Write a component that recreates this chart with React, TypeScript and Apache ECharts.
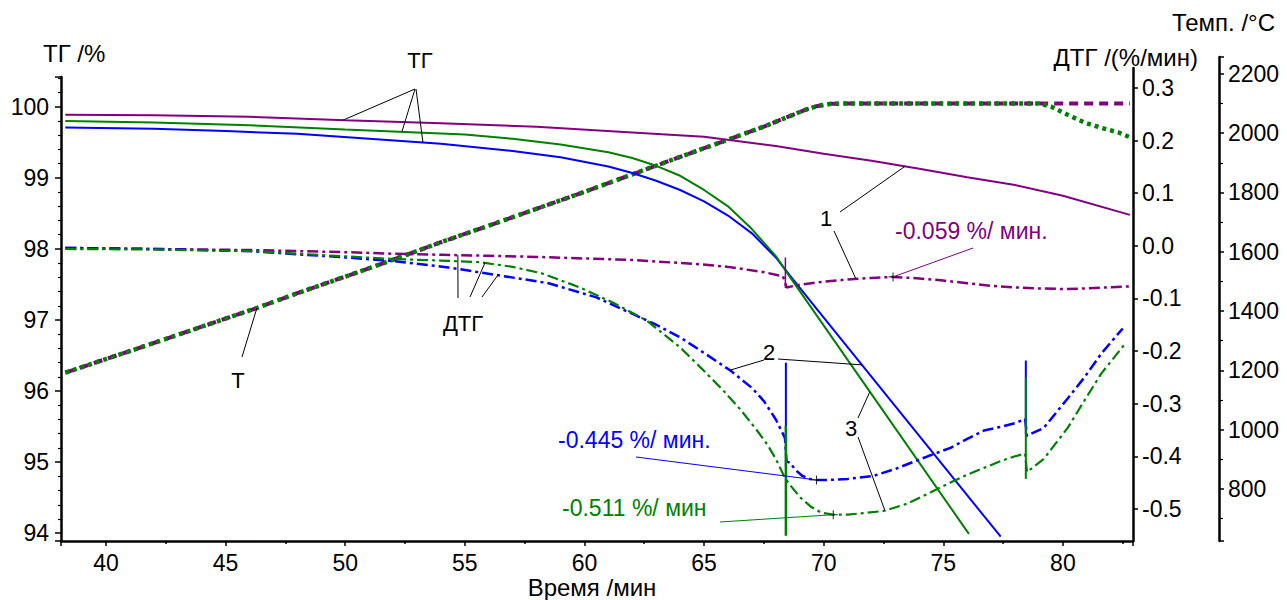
import React, { useEffect, useRef } from "react";
import * as echarts from "echarts";

type P = [number, number];

// ---- Axis ranges ----
const timeRange: P = [38.12, 82.93];
const tgRange: P = [93.89, 100.42];
const dtgRange: P = [-0.561, 0.338];
const tempRange: P = [624, 2257];

// ---- TG curves (%), [time min, value] ----
const tgPurple: P[] = [
  [38.3, 99.89], [42, 99.88], [46, 99.86], [50, 99.81], [54, 99.77], [58, 99.72],
  [62, 99.64], [65, 99.58], [68, 99.45], [70, 99.34], [72, 99.24], [74, 99.13],
  [76, 99.01], [78, 98.9], [80, 98.75], [82.8, 98.48],
];
const tgGreen: P[] = [
  [38.3, 99.8], [42, 99.78], [46, 99.74], [50, 99.68], [53, 99.64], [55, 99.61],
  [57, 99.55], [59, 99.47], [61, 99.36], [62, 99.28], [63, 99.17], [64, 99.03],
  [65, 98.83], [66, 98.6], [67, 98.28], [68, 97.9], [68.6, 97.6], [76.07, 93.99],
];
const tgBlue: P[] = [
  [38.3, 99.71], [42, 99.69], [45, 99.66], [48, 99.62], [51, 99.55], [54, 99.48],
  [57, 99.38], [59, 99.29], [61, 99.16], [62, 99.07], [63, 98.96], [64, 98.83],
  [65, 98.67], [66, 98.47], [67, 98.22], [68, 97.88], [68.6, 97.62], [69.75, 97.14],
  [77.4, 93.95],
];

// ---- DTG curves (%/min) ----
const dtgPurple: P[] = [
  [38.3, -0.004], [42, -0.006], [46, -0.008], [50, -0.012], [52, -0.015], [54, -0.017],
  [56, -0.019], [58, -0.021], [60, -0.024], [62, -0.027], [64.85, -0.035], [66, -0.04],
  [67.5, -0.05], [68.3, -0.058], [68.45, -0.079], [69, -0.074], [70, -0.068], [71, -0.064],
  [72, -0.061], [72.9, -0.059], [74, -0.062], [75, -0.066], [76, -0.071], [77, -0.076],
  [78, -0.079], [79, -0.081], [80, -0.082], [81, -0.081], [82.8, -0.077],
];
const dtgBlue: P[] = [
  [38.3, -0.004], [42, -0.006], [46, -0.01], [48, -0.016], [50, -0.022], [52, -0.029],
  [54.3, -0.041], [56.4, -0.056], [58.5, -0.071], [60.5, -0.098], [61.9, -0.127],
  [63, -0.15], [64, -0.174], [64.85, -0.199], [66.1, -0.237], [67, -0.27], [67.5, -0.295],
  [68, -0.33], [68.38, -0.365], [68.45, -0.41], [68.6, -0.412], [68.8, -0.425],
  [69.1, -0.437], [69.4, -0.443], [69.7, -0.445], [70.2, -0.445], [71, -0.443],
  [72.1, -0.437], [73, -0.424], [74.35, -0.4], [75.3, -0.384], [76, -0.367],
  [76.7, -0.351], [77.4, -0.344], [78, -0.337], [78.42, -0.329], [78.5, -0.361],
  [79.2, -0.346], [80.2, -0.29], [80.9, -0.25], [81.6, -0.205], [82.5, -0.157],
];
const dtgGreen: P[] = [
  [38.3, -0.006], [42, -0.007], [46, -0.01], [48, -0.015], [50, -0.02], [52, -0.025],
  [54, -0.028], [55.6, -0.031], [57, -0.04], [58.2, -0.052], [59.8, -0.079],
  [61.2, -0.108], [62.6, -0.142], [64, -0.193], [64.85, -0.231], [65.7, -0.27],
  [66.5, -0.31], [67.2, -0.35], [67.65, -0.378], [68, -0.405], [68.38, -0.441],
  [68.6, -0.455], [69.04, -0.479], [69.5, -0.497], [69.9, -0.507], [70.4, -0.511],
  [71, -0.511], [72.5, -0.504], [73.5, -0.49], [74.5, -0.468], [75.3, -0.45],
  [76, -0.435], [76.7, -0.422], [77.4, -0.409], [78, -0.4], [78.42, -0.395],
  [78.5, -0.43], [79.2, -0.405], [80.2, -0.346], [80.9, -0.294], [81.6, -0.243],
  [82.6, -0.186],
];

// vertical disturbances in DTG
const spikePurple1: P[] = [[68.4, -0.022], [68.4, -0.08]];
const spikeBlue1: P[] = [[68.42, -0.222], [68.42, -0.42]];
const spikeBlue2: P[] = [[78.45, -0.218], [78.45, -0.357]];
const spikeGreen1: P[] = [[68.42, -0.342], [68.42, -0.551]];
const spikeGreen2: P[] = [[78.45, -0.25], [78.45, -0.443]];

// ---- Temperature (°C) ----
const tempRamp: P[] = [
  [38.3, 1192], [40, 1238], [42, 1292], [44, 1347], [46.3, 1410], [48, 1460],
  [50, 1516], [52, 1573], [54, 1632], [56, 1688], [58, 1745], [60, 1802],
  [62, 1861], [64, 1920], [66, 1978], [67.5, 2022], [68.5, 2055], [69.2, 2078],
  [69.7, 2091], [70.3, 2099], [71, 2100], [79, 2100],
];
const tempPurpleTail: P[] = [[82.8, 2100]];
const tempGreenTail: P[] = [
  [79.5, 2090], [80.2, 2062], [80.9, 2036], [81.6, 2018], [82.3, 2003], [82.85, 1985],
];

// ---- Extrema of DTG (marked with +) ----
const extremaTime = [72.9, 69.7, 70.4];
const extremaRate = [-0.059, -0.445, -0.511];
const extremaLabel = ["-0.059 %/ мин.", "-0.445 %/ мин.", "-0.511 %/ мин"];

const PURPLE = "#800080";
const GREEN = "#008000";
const BLUE = "#0000ff";
const FONT = '"Liberation Sans", Arial, sans-serif';

function interp(d: P[], t: number): number {
  for (let i = 1; i < d.length; i++) {
    if (t <= d[i][0]) {
      const [x0, y0] = d[i - 1];
      const [x1, y1] = d[i];
      return y0 + ((y1 - y0) * (t - x0)) / (x1 - x0);
    }
  }
  return d[d.length - 1][1];
}

export default function App() {
  const ref = useRef<HTMLDivElement>(null);

  useEffect(() => {
    if (!ref.current) return;
    const chart = echarts.init(ref.current, undefined, { renderer: "svg" });

    const gridBase = { left: 61, right: 154, bottom: 59, containLabel: false };
    const axisLineStyle = { color: "#000", width: 2.5 };
    const labelStyle = { color: "#000", fontSize: 23, fontFamily: FONT };

    const hiddenX = (gi: number) => ({
      type: "value" as const,
      gridIndex: gi,
      min: timeRange[0],
      max: timeRange[1],
      show: false,
    });

    const line = (
      data: P[],
      color: string,
      gi: number,
      width: number,
      type: any = "solid",
      z = 2
    ) => ({
      type: "line" as const,
      xAxisIndex: gi,
      yAxisIndex: gi,
      data,
      showSymbol: false,
      symbol: "none",
      z,
      lineStyle: { color, width, type },
      emphasis: { disabled: true },
    });

    const dashDot = [11, 4, 3, 4];

    chart.setOption({
      animation: false,
      backgroundColor: "#fff",
      grid: [
        { ...gridBase, top: 77 },
        { ...gridBase, top: 68 },
        { ...gridBase, top: 57 },
      ],
      xAxis: [
        {
          type: "value",
          gridIndex: 0,
          min: timeRange[0],
          max: timeRange[1],
          splitNumber: 9,
          axisLine: { show: true, onZero: false, lineStyle: axisLineStyle },
          axisTick: { show: true, length: 5, lineStyle: { color: "#000", width: 1.5 } },
          minorTick: { show: true, splitNumber: 2, length: 3, lineStyle: { color: "#000", width: 1.5 } },
          axisLabel: { ...labelStyle, margin: 10, showMinLabel: false, showMaxLabel: false },
          splitLine: { show: false },
        },
        hiddenX(1),
        hiddenX(2),
      ],
      yAxis: [
        {
          type: "value",
          gridIndex: 0,
          position: "left",
          min: tgRange[0],
          max: tgRange[1],
          splitNumber: 6,
          axisLine: { show: true, onZero: false, lineStyle: axisLineStyle },
          axisTick: { show: true, length: 6, lineStyle: { color: "#000", width: 1.5 } },
          minorTick: { show: true, splitNumber: 5, length: 3, lineStyle: { color: "#000", width: 1.2 } },
          axisLabel: { ...labelStyle, margin: 12, showMinLabel: false, showMaxLabel: false },
          splitLine: { show: false },
        },
        {
          type: "value",
          gridIndex: 1,
          position: "right",
          min: dtgRange[0],
          max: dtgRange[1],
          splitNumber: 8,
          axisLine: { show: true, onZero: false, lineStyle: axisLineStyle },
          axisTick: { show: true, length: 5, lineStyle: { color: "#000", width: 1.5 } },
          axisLabel: {
            ...labelStyle,
            margin: 9,
            showMinLabel: false,
            showMaxLabel: false,
            formatter: (v: number) => v.toFixed(1),
          },
          splitLine: { show: false },
        },
        {
          type: "value",
          gridIndex: 2,
          position: "right",
          offset: 86,
          min: tempRange[0],
          max: tempRange[1],
          splitNumber: 8,
          axisLine: { show: true, onZero: false, lineStyle: axisLineStyle },
          axisTick: { show: true, length: 5, lineStyle: { color: "#000", width: 1.5 } },
          minorTick: { show: true, splitNumber: 2, length: 4, lineStyle: { color: "#000", width: 1.2 } },
          axisLabel: {
            ...labelStyle,
            margin: 9,
            showMinLabel: false,
            showMaxLabel: false,
            formatter: (v: number) => String(Math.round(v)),
          },
          splitLine: { show: false },
        },
      ],
      series: [
        line([...tempRamp, ...tempPurpleTail], PURPLE, 2, 4, [9, 6], 1),
        line([...tempRamp, ...tempGreenTail], GREEN, 2, 4.5, [4, 4], 1),
        line(tgPurple, PURPLE, 0, 2),
        line(tgBlue, BLUE, 0, 2),
        line(tgGreen, GREEN, 0, 2),
        line(dtgPurple, PURPLE, 1, 2.5, dashDot),
        line(dtgBlue, BLUE, 1, 2.5, dashDot),
        line(dtgGreen, GREEN, 1, 2.2, dashDot),
        line(spikePurple1, PURPLE, 1, 1.5),
        line(spikeBlue1, BLUE, 1, 2),
        line(spikeBlue2, BLUE, 1, 2),
        line(spikeGreen1, GREEN, 1, 2.5),
        line(spikeGreen2, GREEN, 1, 2),
        {
          type: "scatter",
          xAxisIndex: 1,
          yAxisIndex: 1,
          z: 5,
          symbol: "path://M0,4.4H10V5.6H0Z M4.4,0H5.6V10H4.4Z",
          symbolSize: 9,
          itemStyle: { color: "#000" },
          emphasis: { disabled: true },
          data: extremaTime.map((t, i) => [t, extremaRate[i]]),
        },
      ],
    });

    // ---- annotations ----
    const curves: Record<string, { d: P[]; g: number }> = {
      tgPurple: { d: tgPurple, g: 0 },
      tgGreen: { d: tgGreen, g: 0 },
      tgBlue: { d: tgBlue, g: 0 },
      dtgPurple: { d: dtgPurple, g: 1 },
      dtgGreen: { d: dtgGreen, g: 1 },
      dtgBlue: { d: dtgBlue, g: 1 },
      temp: { d: tempRamp, g: 2 },
    };
    const toPx = (name: string, t: number) => {
      const c = curves[name];
      return chart.convertToPixel({ gridIndex: c.g }, [t, interp(c.d, t)]) as number[];
    };

    const leaders: { from: P; curve: string; t: number }[] = [
      { from: [415, 89], curve: "tgPurple", t: 49.9 },
      { from: [415, 89], curve: "tgGreen", t: 52.37 },
      { from: [416, 89], curve: "tgBlue", t: 53.25 },
      { from: [242, 357], curve: "temp", t: 46.31 },
      { from: [458, 298], curve: "dtgPurple", t: 54.71 },
      { from: [470, 297], curve: "dtgGreen", t: 55.84 },
      { from: [482, 297], curve: "dtgBlue", t: 56.38 },
      { from: [840, 212], curve: "tgPurple", t: 73.4 },
      { from: [834, 231], curve: "dtgPurple", t: 71.35 },
      { from: [764, 360], curve: "dtgBlue", t: 66.08 },
      { from: [778, 359], curve: "tgBlue", t: 71.6 },
      { from: [858, 418], curve: "tgGreen", t: 71.93 },
      { from: [858, 437], curve: "dtgGreen", t: 72.56 },
    ];

    const graphic: any[] = [];
    leaders.forEach((l) => {
      const [x2, y2] = toPx(l.curve, l.t);
      graphic.push({
        type: "line",
        z: 50,
        silent: true,
        shape: { x1: l.from[0], y1: l.from[1], x2, y2 },
        style: { stroke: "#000", lineWidth: 1 },
      });
    });

    const extremaColors = [PURPLE, BLUE, GREEN];
    const extremaLabelPos: P[] = [[895, 231], [558, 440], [562, 508]];
    const extremaLeaderFrom: P[] = [[973, 248], [636, 457], [720, 522]];
    extremaTime.forEach((t, i) => {
      const [x2, y2] = chart.convertToPixel({ gridIndex: 1 }, [t, extremaRate[i]]) as number[];
      graphic.push({
        type: "line",
        z: 50,
        silent: true,
        shape: { x1: extremaLeaderFrom[i][0], y1: extremaLeaderFrom[i][1], x2, y2 },
        style: { stroke: extremaColors[i], lineWidth: 1 },
      });
      graphic.push({
        type: "text",
        z: 50,
        silent: true,
        x: extremaLabelPos[i][0],
        y: extremaLabelPos[i][1],
        style: {
          text: extremaLabel[i],
          fill: extremaColors[i],
          fontSize: 23,
          fontFamily: FONT,
          align: "left",
          verticalAlign: "middle",
        },
      });
    });

    const texts: { text: string; x: number; y: number; align: string; size: number }[] = [
      { text: "ТГ /%", x: 43, y: 53, align: "left", size: 24 },
      { text: "Время /мин", x: 592, y: 587, align: "center", size: 24 },
      { text: "ДТГ /(%/мин)", x: 1198, y: 57, align: "right", size: 24 },
      { text: "Темп. /°C", x: 1275, y: 22, align: "right", size: 24 },
      { text: "ТГ", x: 420, y: 60, align: "center", size: 22 },
      { text: "Т", x: 238, y: 380, align: "center", size: 22 },
      { text: "ДТГ", x: 463, y: 323, align: "center", size: 22 },
      { text: "1", x: 826, y: 218, align: "center", size: 22 },
      { text: "2", x: 769, y: 352, align: "center", size: 22 },
      { text: "3", x: 851, y: 428, align: "center", size: 22 },
    ];
    texts.forEach((tx) => {
      graphic.push({
        type: "text",
        z: 50,
        silent: true,
        x: tx.x,
        y: tx.y,
        style: {
          text: tx.text,
          fill: "#000",
          fontSize: tx.size,
          fontFamily: FONT,
          align: tx.align,
          verticalAlign: "middle",
        },
      });
    });

    chart.setOption({ graphic });

    return () => chart.dispose();
  }, []);

  return (
    <div
      ref={ref}
      style={{ position: "absolute", left: 0, top: 0, width: 1287, height: 600, background: "#fff" }}
    />
  );
}
